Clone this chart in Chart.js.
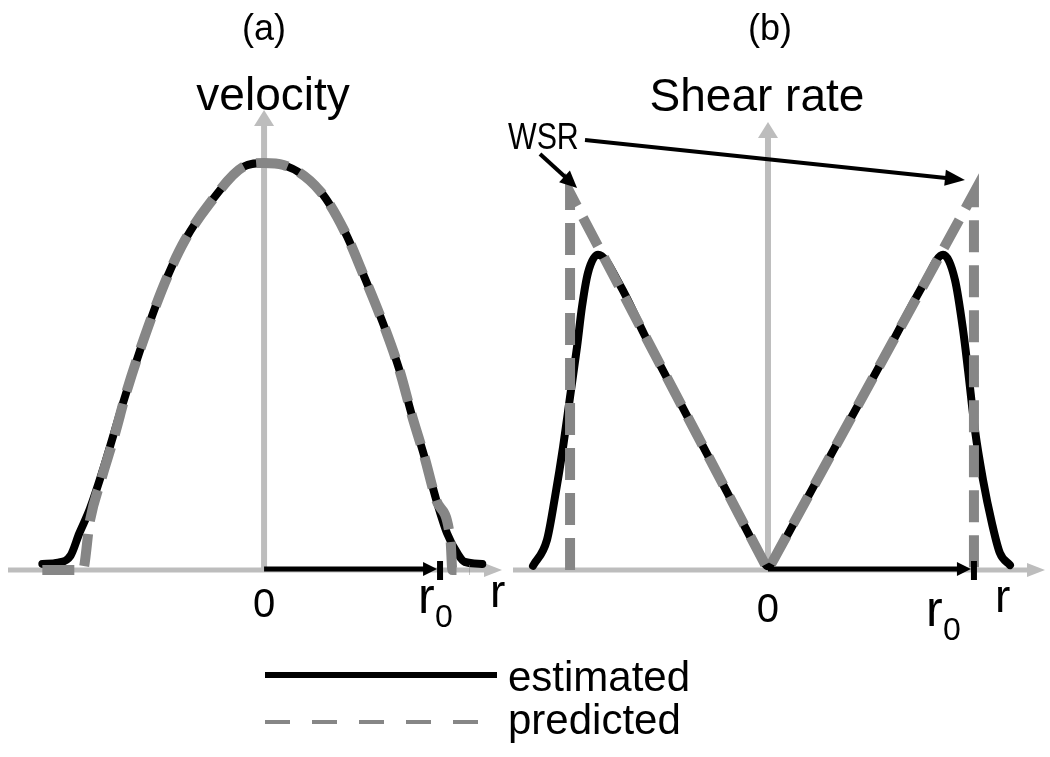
<!DOCTYPE html>
<html><head><meta charset="utf-8">
<script src="https://cdn.jsdelivr.net/npm/chart.js@4"></script>
<style>
html,body{margin:0;padding:0;background:#fff;}
#wrap{position:relative;width:1050px;height:757px;background:#fff;}
canvas{position:absolute;left:0;top:0;}
</style></head><body>
<div id="wrap"><canvas id="ca" width="1050" height="757"></canvas><canvas id="cb" width="1050" height="757"></canvas></div>
<script>
// ---------- data (normalised: r / r0, value / max) ----------
const panelTitles = ['(a)', '(b)'];
const axisTitles = ['velocity', 'Shear rate'];
const seriesNames = ['estimated', 'predicted'];
const originLabel = '0';
const radiusLabel = 'r';
const radiusSub = '0';
const wsrLabel = 'WSR';

// (a) velocity
const velPredR = [-1.26, -1.03, -0.99, -0.92, -0.85, -0.78, -0.64, -0.55, -0.45, -0.31, -0.12, 0, 0.11, 0.32, 0.46, 0.56, 0.69, 0.77, 0.84, 0.91, 0.98, 1.06, 1.07, 1.17];
const velPred  = [0, 0, 0.12, 0.23, 0.33, 0.44, 0.62, 0.72, 0.81, 0.90, 0.99, 1, 0.995, 0.93, 0.83, 0.73, 0.59, 0.49, 0.38, 0.28, 0.17, 0.07, 0, 0];
const velEstR  = [-1.26, -1.17, -1.10, -1.05, -0.99, -0.92, -0.85, -0.78, -0.64, -0.55, -0.45, -0.31, -0.12, 0, 0.11, 0.32, 0.46, 0.56, 0.69, 0.77, 0.84, 0.91, 0.98, 1.04, 1.10, 1.14, 1.24];
const velEst   = [0.015, 0.018, 0.035, 0.09, 0.15, 0.24, 0.34, 0.44, 0.62, 0.72, 0.81, 0.90, 0.99, 1, 0.995, 0.93, 0.83, 0.73, 0.59, 0.49, 0.38, 0.28, 0.17, 0.09, 0.04, 0.02, 0.015];

// (b) shear rate
const shearPredR = [-0.961, -0.961, 0, 1.0, 1.0];
const shearPred  = [0, 1, 0, 1, 0];
const shearEstR  = [-1.141, -1.073, -1.034, -0.995, -0.961, -0.927, -0.903, -0.874, -0.825, -0.718, -0.60, -0.40, -0.20, -0.05, 0, 0.05, 0.20, 0.40, 0.60, 0.762, 0.850, 0.908, 0.947, 0.971, 1.005, 1.044, 1.087, 1.126, 1.175];
const shearEst   = [0.011, 0.08, 0.194, 0.326, 0.459, 0.592, 0.698, 0.788, 0.836, 0.755, 0.624, 0.416, 0.208, 0.052, 0.01, 0.05, 0.20, 0.40, 0.60, 0.764, 0.836, 0.769, 0.637, 0.531, 0.371, 0.239, 0.125, 0.045, 0.013];

// ---------- helpers ----------
const FONT = '"Liberation Sans", Arial, sans-serif';
const AXIS_GRAY = '#bdbdbd';
const EST_COLOR = '#000000';
const PRED_COLOR = '#868686';
const pts = (xs, ys) => xs.map((x, i) => ({x: x, y: ys[i]}));

function arrow(ctx, x1, y1, x2, y2, color, lw, hl, hw) {
  const dx = x2 - x1, dy = y2 - y1, L = Math.hypot(dx, dy);
  const ux = dx / L, uy = dy / L;
  const bx = x2 - ux * hl, by = y2 - uy * hl;
  ctx.save();
  ctx.strokeStyle = color; ctx.fillStyle = color; ctx.lineWidth = lw; ctx.lineCap = 'butt';
  ctx.setLineDash([]);
  ctx.beginPath(); ctx.moveTo(x1, y1); ctx.lineTo(bx + ux, by + uy); ctx.stroke();
  ctx.beginPath();
  ctx.moveTo(x2, y2);
  ctx.lineTo(bx - uy * hw, by + ux * hw);
  ctx.lineTo(bx + uy * hw, by - ux * hw);
  ctx.closePath(); ctx.fill();
  ctx.restore();
}
function text(ctx, s, x, y, size, align) {
  ctx.font = size + 'px ' + FONT;
  ctx.textAlign = align || 'center';
  ctx.textBaseline = 'alphabetic';
  ctx.fillStyle = '#000';
  ctx.fillText(s, x, y);
}

const panelDecor = {
  id: 'panelDecor',
  beforeDatasetsDraw(chart, args, o) {
    const ctx = chart.ctx, xs = chart.scales.x, ys = chart.scales.y;
    const x0 = xs.getPixelForValue(0), y0 = ys.getPixelForValue(0);
    arrow(ctx, xs.left, y0, xs.right, y0, AXIS_GRAY, 5, 18, 7);
    arrow(ctx, x0, y0, x0, ys.top, AXIS_GRAY, 6, 16, 10);
  },
  afterDatasetsDraw(chart, args, o) {
    const ctx = chart.ctx, xs = chart.scales.x, ys = chart.scales.y;
    const x0 = xs.getPixelForValue(0), y0 = ys.getPixelForValue(0);
    const xr0 = xs.getPixelForValue(1);
    // r0 marker
    arrow(ctx, x0, y0 - 1, xr0 - 3, y0 - 1, '#000', 5, 14, 7);
    ctx.save(); ctx.fillStyle = '#000'; ctx.fillRect(xr0 - 3, y0 - 9, 6, 19); ctx.restore();
    // titles
    text(ctx, o.title, x0 + o.titleDx, 40, 36);
    text(ctx, o.axisTitle, x0 + o.axisTitleDx, o.axisTitleY, 46);
    // tick labels
    text(ctx, originLabel, x0, y0 + o.zeroDy, 40);
    text(ctx, radiusLabel, xr0 + o.r0Dx, y0 + o.r0Dy, 50, 'left');
    text(ctx, radiusSub, xr0 + o.r0Dx + 17, y0 + o.r0Dy + 14, 32, 'left');
    text(ctx, radiusLabel, xs.right + o.rDx, y0 + o.rDy, 46, 'left');
    if (o.wsr) {
      const lx = xs.getPixelForValue(shearPredR[1]), ly = ys.getPixelForValue(shearPred[1]);
      const rx = xs.getPixelForValue(shearPredR[3]), ry = ys.getPixelForValue(shearPred[3]);
      ctx.save();
      ctx.translate(508, 149);
      ctx.scale(0.82, 1);
      text(ctx, wsrLabel, 0, 0, 37, 'left');
      ctx.restore();
      arrow(ctx, 540, 154, lx + 7, ly - 5, '#000', 4, 17, 8);
      arrow(ctx, 585, 140, rx - 9, ry - 13, '#000', 4, 20, 8);
    }
    if (o.legend) {
      const ds = chart.data.datasets;
      const est = ds[0], pred = ds[1];
      ctx.save();
      ctx.lineCap = 'butt';
      ctx.strokeStyle = est.borderColor; ctx.lineWidth = 6; ctx.setLineDash([]);
      ctx.beginPath(); ctx.moveTo(265, 675); ctx.lineTo(497, 675); ctx.stroke();
      ctx.strokeStyle = pred.borderColor; ctx.lineWidth = 4; ctx.setLineDash([25, 22]);
      ctx.beginPath(); ctx.moveTo(265, 722); ctx.lineTo(480, 722); ctx.stroke();
      ctx.restore();
      text(ctx, est.label, 508, 691, 42, 'left');
      text(ctx, pred.label, 508, 734, 42, 'left');
    }
  }
};

function makeChart(id, estR, est, predR, pred, predSmooth, xr, yr, pad, decor) {
  return new Chart(document.getElementById(id), {
    type: 'scatter',
    data: {
      datasets: [
        {label: seriesNames[0], data: pts(estR, est), showLine: true, borderColor: EST_COLOR, backgroundColor: EST_COLOR,
         borderWidth: 8, pointRadius: 0, cubicInterpolationMode: 'monotone', borderCapStyle: 'round', borderJoinStyle: 'round',
         order: 2, clip: false},
        {label: seriesNames[1], data: pts(predR, pred), showLine: true, borderColor: PRED_COLOR, backgroundColor: PRED_COLOR,
         borderWidth: 10, borderDash: [32, 13], pointRadius: 0, borderCapStyle: 'butt', borderJoinStyle: 'miter',
         cubicInterpolationMode: predSmooth ? 'monotone' : 'default', tension: 0, order: 1, clip: false}
      ]
    },
    options: {
      responsive: false, animation: false, events: [],
      layout: {padding: pad},
      scales: {
        x: {type: 'linear', min: xr[0], max: xr[1], display: false},
        y: {type: 'linear', min: yr[0], max: yr[1], display: false}
      },
      plugins: {legend: {display: false}, tooltip: {enabled: false}, panelDecor: decor}
    },
    plugins: [panelDecor]
  });
}

makeChart('ca', velEstR, velEst, velPredR, velPred, true, [-1.455, 1.352], [0, 1.130],
  {left: 8, right: 548, top: 110, bottom: 187},
  {title: panelTitles[0], titleDx: 0, axisTitle: axisTitles[0], axisTitleDx: 9, axisTitleY: 110,
   zeroDy: 47, r0Dx: -22, r0Dy: 43, rDx: -12, rDy: 37, legend: true});

makeChart('cb', shearEstR, shearEst, shearPredR, shearPred, false, [-1.238, 1.345], [0, 1.188],
  {left: 513, right: 5, top: 122, bottom: 187},
  {title: panelTitles[1], titleDx: 2, axisTitle: axisTitles[1], axisTitleDx: -11, axisTitleY: 111,
   zeroDy: 52, r0Dx: -48, r0Dy: 56, rDx: -50, rDy: 42, wsr: true});
</script>
</body></html>
